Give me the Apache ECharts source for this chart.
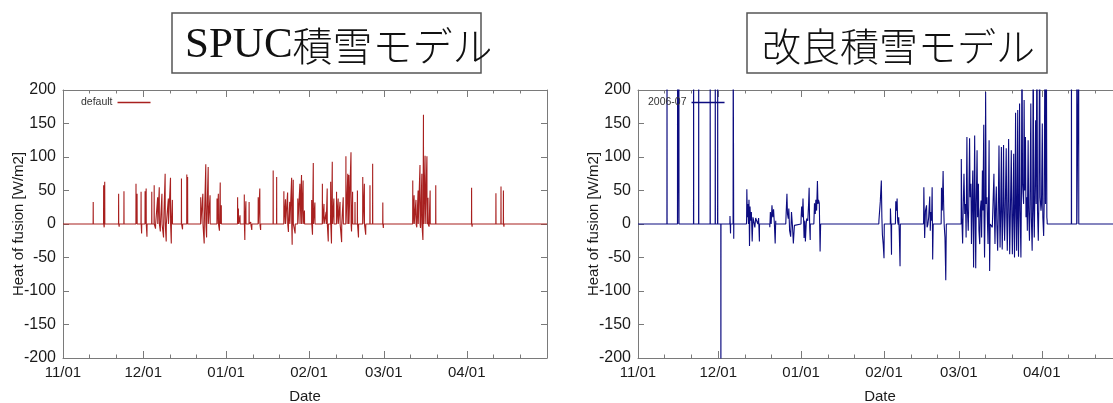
<!DOCTYPE html>
<html>
<head>
<meta charset="utf-8">
<script src="https://cdn.jsdelivr.net/npm/echarts@6.0.0/dist/echarts.min.js"></script>
<style>
html,body{margin:0;padding:0;background:#fff;}
#chart{width:1113px;height:403px;}
</style>
</head>
<body>
<div id="chart"></div>
<script>
// ---- Data (days since 11/01, value in W/m2) ----
const monthStartDays = [0, 30, 61, 92, 120, 151];
const monthLabels = ['11/01', '12/01', '01/01', '02/01', '03/01', '04/01'];
const minorTickDays = [10, 20, 40, 50, 71, 81, 102, 112, 130, 140, 161, 171];
const seasonEndDay = 181;
const yTicks = [-200, -150, -100, -50, 0, 50, 100, 150, 200];

const titleRight = '改良積雪モデル';
const seriesNameLeft = 'default';
const seriesNameRight = '2006-07';

// SPUC model: isolated spikes [day, value]
const defaultSpikes = [
[11.3,33],
[15.2,58],[15.4,-5],[15.6,63],
[20.8,45],[21.0,-4],
[22.8,49],
[27.3,60],[27.7,45],[29.2,48],[29.4,-14],
[30.7,49],[31.1,53],[31.4,-19],
[33.2,48],[34.1,58],[34.6,-7],[35.4,40],[36.0,55],[36.4,-11],[37.0,45],[37.6,-20],[38.2,75],[38.6,-26],[39.4,38],[40.2,69],[40.5,-29],[40.9,36],
[44.3,68],[44.7,-8],[46.3,74],[46.6,70],
[51.5,40],[52.3,45],[52.8,-29],[53.4,89],[53.7,-20],[54.3,85],[55.0,43],
[57.6,38],[58.1,45],[58.5,-10],[58.8,62],[59.2,28],
[65.3,40],[65.6,23],[66.2,13],[67.8,44],[68.0,-24],[68.4,34],[69.6,33],[70.2,3],[70.6,-9],
[73.0,40],[73.6,53],[73.9,-9],
[78.6,80],[79.9,70],
[82.6,49],[83.2,37],[84.0,47],[84.3,-12],[84.8,33],[85.5,69],[85.7,-31],[86.1,66],[86.8,-14],[87.8,38],[88.6,60],[89.2,73],[89.8,65],[90.3,20],
[93.0,36],[93.3,-16],[93.6,91],[94.2,32],
[97.0,60],[97.6,30],[98.4,18],[98.8,53],[99.2,-26],[100.1,63],[100.4,-29],[100.7,93],[101.3,38],[102.3,48],[102.9,38],[103.6,33],[104.2,-27],[104.8,40],[105.8,101],[106.5,75],[106.9,73],[107.7,107],[107.9,-11],[108.3,48],[109.2,33],[110.1,50],[110.5,-20],[112.1,70],[112.7,60],[113.2,-16],[114.8,58],[115.8,90],
[119.6,32],[119.8,-6],
[130.8,65],[131.3,43],[132.0,36],[132.3,-5],[132.8,50],[133.5,88],[133.7,-6],[134.2,75],[134.6,-24],[134.8,163],[135.4,102],[136.1,101],[136.5,39],[136.9,-4],[137.3,50],
[139.4,58],
[152.8,54],[153.0,-4],
[161.9,46],[163.8,56],[164.7,50],[164.9,-4]
];

// Improved model: isolated off-scale spikes [day, value]
const improvedSpikes = [
[10.85,300],[14.8,300],[15.3,300],[20.8,300],[22.7,300],[27.0,300],[28.9,300],[29.8,300],[31.0,-300],
[162.1,300],[164.1,300],[164.8,300]
];

// Improved model: continuous clusters of [day, value]
const improvedClusters = [
[[34.4,12],[34.6,-14]],
[[35.6,300],[35.8,-22]],
[[40.6,5],[40.7,52],[40.9,10],[41.1,30],[41.3,0],[41.5,36],[41.7,-33],[41.9,26],[42.1,5],[42.4,18],[42.7,-26],[43.0,10],[43.3,12],[43.7,-5],[44.0,9],[44.4,11],[44.8,0],[45.1,9],[45.4,-26]],
[[49.3,-5],[49.5,18],[49.8,0],[50.1,28],[50.4,10],[50.7,22],[51.0,0],[51.3,-29],[51.5,5]],
[[55.3,5],[55.4,16],[55.7,45],[55.9,15],[56.2,8],[56.4,23],[56.7,-10],[57.1,-19],[57.4,18],[57.8,-5],[58.1,-29],[58.5,-2]],
[[61.0,10],[61.2,26],[61.5,10],[61.7,38],[62.0,-5],[62.1,-21],[62.4,5],[62.6,-26],[62.9,0],[63.1,8],[63.5,5],[63.8,30],[64.0,54],[64.2,-5],[64.4,-24]],
[[65.8,5],[66.0,31],[66.3,15],[66.5,36],[66.8,20],[67.1,64],[67.3,30],[67.5,36],[67.8,31],[68.1,-41],[68.3,0]],
[[90.1,5],[90.2,11],[90.6,33],[91.0,65],[91.2,10],[91.4,-16],[91.7,-30],[92.0,-51],[92.1,0]],
[[94.4,23],[94.6,0],[94.8,-46]],
[[96.3,10],[96.4,34],[96.7,20],[96.9,38],[97.1,5],[97.3,-1],[97.5,10],[97.7,-11],[98.0,-63],[98.1,0]],
[[106.8,5],[106.9,55],[107.1,0],[107.2,-21],[107.5,20],[107.9,28],[108.1,-5],[108.4,-1],[108.7,10],[109.1,41],[109.3,-10],[109.5,18],[109.8,5],[110.0,55],[110.2,-53],[110.4,0]],
[[113.4,10],[113.5,54],[113.8,20],[114.1,79],[114.3,30],[114.5,-1],[114.8,-20],[115.1,-84],[115.3,0]],
[[120.9,97],[121.1,10],[121.4,-29],[121.6,20],[121.9,75],[122.2,15],[122.5,30],[122.7,-20],[123.0,130],[123.2,20],[123.5,-10],[123.7,30],[124.0,128],[124.2,40],[124.5,60],[124.7,-30],[125.0,40],[125.2,80],[125.5,-65],[125.7,30],[125.9,132],[126.1,20],[126.3,-66],[126.5,30],[126.8,110],[127.0,10],[127.3,60],[127.5,-10],[127.8,-30],[128.0,20],[128.3,35],[128.5,-20],[128.8,80],[129.0,20],[129.3,148],[129.4,10],[129.6,-50],[129.8,20],[130.0,197],[130.2,30],[130.5,40],[130.7,0],[130.9,-30],[131.1,40],[131.3,125],[131.4,0],[131.5,-70],[131.7,0],
 [132.0,0],[132.5,-5],[133.1,75],[133.3,10],[133.5,-30],[133.7,20],[134.0,56],[134.2,0],[134.5,-40],[134.7,10],[135.0,117],[135.2,20],[135.4,-35],[135.6,10],[135.9,115],[136.0,30],[136.2,-38],[136.4,0],[136.7,118],[136.9,20],[137.1,-25],[137.3,10],[137.7,113],[137.9,10],[138.1,-40],[138.3,10],[138.6,127],[138.8,20],[139.0,-45],[139.2,0],[139.6,110],[139.8,10],[140.0,-45],[140.2,10],[140.5,105],[140.6,20],[140.8,-50],[141.0,20],[141.2,166],[141.4,30],[141.6,-40],[141.8,40],[142.0,170],[142.1,20],[142.3,-49],[142.5,40],[142.7,180],[142.9,20],[143.2,-50],[143.4,50],[143.6,300],[143.8,60],[144.0,60],[144.2,30],[144.4,185],[144.6,50],[144.9,130],[145.1,10],[145.4,40],[145.6,-10],[145.9,125],[146.1,20],[146.4,-25],[146.6,30],[146.9,180],[147.1,10],[147.4,-40],[147.6,30],[147.8,300],[148.0,20],[148.2,-20],[148.4,40],[148.7,155],[148.9,30],[149.2,300],[149.4,20],[149.7,-25],[149.9,30],[150.2,300],[150.4,40],[150.7,20],[150.9,30],[151.2,150],[151.4,10],[151.7,-18],[151.9,30],[152.2,300],[152.4,30],[152.7,300],[152.9,10],[153.0,5]]
];

// ---- Build line data: each segment starts and ends on the zero baseline ----
function buildLine(segments) {
  const segs = segments.slice().sort((a, b) => a[0][0] - b[0][0]);
  const pts = [[0, 0]];
  segs.forEach(seg => {
    pts.push([seg[0][0] - 0.04, 0]);
    seg.forEach(p => pts.push([p[0], p[1]]));
    pts.push([seg[seg.length - 1][0] + 0.04, 0]);
  });
  pts.push([seasonEndDay, 0]);
  return pts;
}
const leftData = buildLine(defaultSpikes.map(p => [p]));
const rightData = buildLine(improvedSpikes.map(p => [p]).concat(improvedClusters));

// ---- Styles ----
const FONT = 'Liberation Sans';
const axisColor = '#7a7a7a';
const labelColor = '#1a1a1a';
const redColor = '#a8201f';
const blueColor = '#0c0c80';

function monthFmt(v) {
  const i = monthStartDays.indexOf(v);
  return i >= 0 ? monthLabels[i] : '';
}

function xAxesFor(gi) {
  const base = { gridIndex: gi, type: 'value', min: 0, max: seasonEndDay, splitLine: { show: false } };
  const line = { show: true, onZero: false, lineStyle: { color: axisColor, width: 1 } };
  return [
    Object.assign({}, base, {
      position: 'bottom', axisLine: line,
      axisTick: { show: true, inside: true, length: 7, customValues: monthStartDays, lineStyle: { color: axisColor } },
      axisLabel: { show: true, customValues: monthStartDays, formatter: monthFmt, color: labelColor, fontSize: 15, fontFamily: FONT, margin: 7 },
      name: 'Date', nameLocation: 'middle', nameGap: 31, nameMoveOverlap: false,
      nameTextStyle: { color: labelColor, fontSize: 15, fontFamily: FONT }
    }),
    Object.assign({}, base, {
      position: 'bottom', axisLine: { show: false, onZero: false },
      axisTick: { show: true, inside: true, length: 3.5, customValues: minorTickDays, lineStyle: { color: axisColor } },
      axisLabel: { show: false }
    }),
    Object.assign({}, base, {
      position: 'top', axisLine: line,
      axisTick: { show: true, inside: true, length: 7, customValues: monthStartDays, lineStyle: { color: axisColor } },
      axisLabel: { show: false }
    }),
    Object.assign({}, base, {
      position: 'top', axisLine: { show: false, onZero: false },
      axisTick: { show: true, inside: true, length: 3.5, customValues: minorTickDays, lineStyle: { color: axisColor } },
      axisLabel: { show: false }
    })
  ];
}

function yAxesFor(gi) {
  const base = { gridIndex: gi, type: 'value', min: yTicks[0], max: yTicks[yTicks.length - 1], interval: 50, splitLine: { show: false } };
  return [
    Object.assign({}, base, {
      position: 'left',
      axisLine: { show: true, onZero: false, lineStyle: { color: axisColor, width: 1 } },
      axisTick: { show: true, inside: true, length: 6, lineStyle: { color: axisColor } },
      axisLabel: { color: labelColor, fontSize: 16, fontFamily: FONT, margin: 7 },
      name: 'Heat of fusion [W/m2]', nameLocation: 'middle', nameGap: 37, nameMoveOverlap: false,
      nameTextStyle: { color: labelColor, fontSize: 15, fontFamily: FONT }
    }),
    Object.assign({}, base, {
      position: 'right',
      axisLine: { show: true, onZero: false, lineStyle: { color: axisColor, width: 1 } },
      axisTick: { show: true, inside: true, length: 6, lineStyle: { color: axisColor } },
      axisLabel: { show: false }
    })
  ];
}

const legendBase = { top: 97, align: 'right', padding: 0, itemWidth: 33, itemHeight: 1.6, icon: 'rect', selectedMode: false,
  textStyle: { fontSize: 10.5, color: '#333', fontFamily: FONT } };

const chart = echarts.init(document.getElementById('chart'), null, { renderer: 'canvas' });
chart.setOption({
  animation: false,
  backgroundColor: '#fff',
  grid: [
    { left: 63, top: 90, width: 484, bottom: 45, outerBoundsMode: 'none', containLabel: false },
    { left: 638, top: 90, width: 484, bottom: 45, outerBoundsMode: 'none', containLabel: false }
  ],
  xAxis: xAxesFor(0).concat(xAxesFor(1)),
  yAxis: yAxesFor(0).concat(yAxesFor(1)),
  legend: [
    Object.assign({}, legendBase, { data: [seriesNameLeft], left: 81 }),
    Object.assign({}, legendBase, { data: [seriesNameRight], left: 648 })
  ],
  series: [
    { name: seriesNameLeft, type: 'line', xAxisIndex: 0, yAxisIndex: 0, data: leftData, symbol: 'none', showSymbol: false,
      lineStyle: { color: redColor, width: 1.1 }, itemStyle: { color: redColor }, silent: true },
    { name: seriesNameRight, type: 'line', xAxisIndex: 4, yAxisIndex: 2, data: rightData, symbol: 'none', showSymbol: false,
      lineStyle: { color: blueColor, width: 1.1 }, itemStyle: { color: blueColor }, silent: true }
  ],
  graphic: [
    { type: 'rect', shape: { x: 172, y: 13, width: 309, height: 60 }, style: { fill: '#fff', stroke: '#555', lineWidth: 1.5 }, z: 10 },
    { type: 'text', x: 185, y: 46, z: 11,
      style: { text: '{a|SPUC}{b|積雪モデル}', textAlign: 'left', textVerticalAlign: 'middle',
        rich: { a: { fontFamily: 'Liberation Serif', fontSize: 43, fill: '#111' },
                b: { fontFamily: 'Noto Sans CJK JP', fontSize: 40, fontWeight: 300, fill: '#111' } } } },
    { type: 'rect', shape: { x: 747, y: 13, width: 300, height: 60 }, style: { fill: '#fff', stroke: '#555', lineWidth: 1.5 }, z: 10 },
    { type: 'text', x: 762, y: 46, z: 11,
      style: { text: titleRight, textAlign: 'left', textVerticalAlign: 'middle',
        fontFamily: 'Noto Sans CJK JP', fontSize: 39, fontWeight: 300, fill: '#111' } }
  ]
});
</script>
</body>
</html>
